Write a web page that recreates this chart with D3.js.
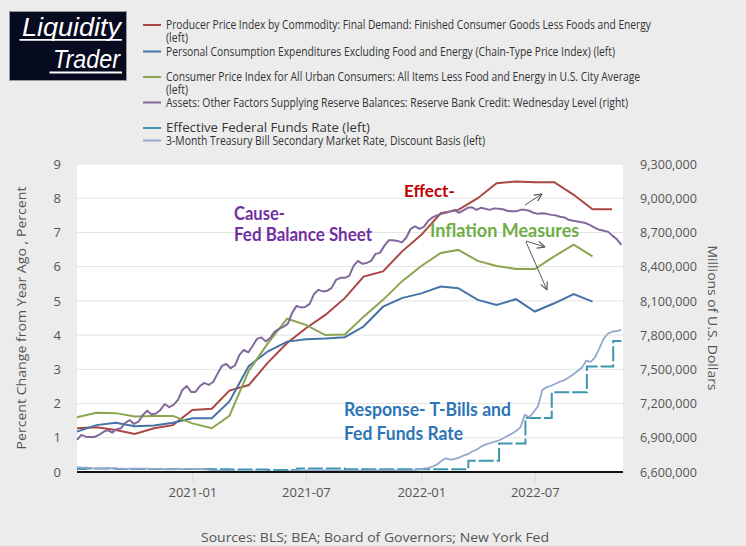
<!DOCTYPE html>
<html><head><meta charset="utf-8">
<script src="https://cdn.jsdelivr.net/npm/d3@7"></script>
<style>html,body{margin:0;padding:0;background:#ececec;} svg{display:block}</style>
</head><body><svg id="c" width="746" height="546"></svg>
<script>
// ---------- DATA ----------
const firstMonth = "2020-07-01";
const firstWeek = "2020-07-01";
const lastDate = "2022-11-17";
// Monthly, % change from year ago (Jul 2020 ...)
const ppiCore = [1.28,1.31,1.23,1.11,1.28,1.37,1.81,1.85,2.38,2.54,3.19,3.77,4.20,4.59,5.08,5.71,5.86,6.44,6.93,7.56,7.66,8.00,8.44,8.49,8.47,8.47,8.10,7.68,7.68];
const pceCore = [1.18,1.37,1.44,1.34,1.36,1.44,1.57,1.57,2.06,3.10,3.52,3.81,3.88,3.90,3.94,4.25,4.83,5.08,5.22,5.42,5.37,5.03,4.88,5.05,4.69,4.93,5.20,4.98];
const cpiCore = [1.60,1.73,1.72,1.62,1.64,1.64,1.42,1.28,1.64,2.96,3.75,4.48,4.30,4.00,4.02,4.54,5.03,5.57,6.02,6.40,6.49,6.17,6.02,5.93,5.93,6.30,6.64,6.30];
// Weekly (Wednesdays), millions of U.S. dollars
const reserveBankCredit = [
6881000,6925000,6910000,6907000,6907000,6925000,6951000,6968000,6945000,6975000,
6983000,7030000,7056000,7021000,7041000,7100000,7138000,7104000,7113000,7144000,
7196000,7168000,7188000,7232000,7319000,7354000,7302000,7302000,7354000,7381000,
7363000,7389000,7460000,7530000,7547000,7510000,7534000,7626000,7670000,7648000,
7705000,7767000,7780000,7745000,7775000,7828000,7854000,7872000,7898000,7995000,
8056000,8043000,8047000,8074000,8161000,8197000,8183000,8188000,8214000,8284000,
8302000,8302000,8319000,8407000,8451000,8425000,8433000,8451000,8512000,8521000,
8582000,8631000,8631000,8626000,8613000,8653000,8732000,8753000,8732000,8749000,
8802000,8832000,8850000,8863000,8872000,8885000,8898000,8872000,8894000,8916000,
8920000,8898000,8916000,8907000,8898000,8911000,8907000,8903000,8890000,8885000,
8885000,8898000,8898000,8890000,8872000,8863000,8868000,8863000,8854000,8850000,
8837000,8832000,8811000,8802000,8796000,8789000,8780000,8762000,8740000,8723000,
8714000,8705000,8670000,8640000,8591000];
// Weekly, percent
const tbill3m = [
0.14,0.13,0.13,0.12,0.10, 0.10,0.10,0.11,0.11, 0.10,0.10,0.09,0.10,0.10, 0.10,0.10,0.10,0.09,
0.09,0.09,0.08,0.08, 0.08,0.09,0.08,0.09,0.09, 0.09,0.08,0.08,0.06, 0.04,0.04,0.04,0.03,
0.04,0.02,0.02,0.02,0.02, 0.02,0.02,0.02,0.01, 0.01,0.01,0.01,0.01, 0.02,0.03,0.04,0.05,0.05,
0.05,0.05,0.05,0.05, 0.05,0.05,0.05,0.04, 0.04,0.04,0.04,0.04,0.03, 0.04,0.05,0.05,0.05,
0.05,0.05,0.05,0.05, 0.04,0.04,0.05,0.06,
0.08,0.10,0.12,0.16,0.22,0.32,0.40,0.36,0.38,0.42,0.48,0.52,0.60,0.65,0.74,0.80,0.84,0.88,0.92,0.98,
1.05,1.12,1.20,1.30,1.67,1.60,1.75,1.92,2.40,2.48,2.52,2.58,2.64,2.68,2.76,2.85,2.95,3.05,3.25,3.22,
3.35,3.62,3.90,4.05,4.10,4.12,4.15];
// Effective federal funds rate: change dates and levels
const effrDates = ["2020-07-01","2020-07-15","2020-09-01","2021-02-01","2021-03-01","2021-05-01","2021-06-17","2021-09-01","2022-03-17","2022-05-05","2022-06-16","2022-07-28","2022-09-22","2022-11-03","2022-11-16"];
const effrValues = [0.09,0.10,0.09,0.08,0.07,0.06,0.10,0.08,0.33,0.83,1.58,2.33,3.08,3.83,3.83];

const leftTicks = [0,1,2,3,4,5,6,7,8,9];
const rightTicks = [6600000,6900000,7200000,7500000,7800000,8100000,8400000,8700000,9000000,9300000];
const xTickLabels = ["2021-01","2021-07","2022-01","2022-07"];
const seriesNames = [
 "Producer Price Index by Commodity: Final Demand: Finished Consumer Goods Less Foods and Energy",
 "Personal Consumption Expenditures Excluding Food and Energy (Chain-Type Price Index) (left)",
 "Consumer Price Index for All Urban Consumers: All Items Less Food and Energy in U.S. City Average",
 "Assets: Other Factors Supplying Reserve Balances: Reserve Bank Credit: Wednesday Level (right)",
 "Effective Federal Funds Rate (left)",
 "3-Month Treasury Bill Secondary Market Rate, Discount Basis (left)"];
const colors = ["#AA4643","#4572A7","#89A54E","#80699B","#3D96AE","#92A8CD"];
const leftTitle = "Percent Change from Year Ago , Percent";
const rightTitle = "Millions of U.S. Dollars";
const sourceText = "Sources: BLS; BEA; Board of Governors; New York Fed";

// ---------- SETUP ----------
const svg = d3.select("#c");
const parse = d3.utcParse("%Y-%m-%d");
const parseM = d3.utcParse("%Y-%m");
const t0 = parse(firstMonth), t1 = parse(lastDate);
const x = d3.scaleUtc().domain([t0, t1]).range([77, 622]);
const yL = d3.scaleLinear().domain([0, 9]).range([472, 164]);
const yR = d3.scaleLinear().domain([6600000, 9300000]).range([472, 164]);
const months = d3.utcMonth.range(t0, d3.utcMonth.offset(t0, ppiCore.length));
const weeks = d3.utcWednesday.range(parse(firstWeek), t1);
const font = "'Open Sans', 'Noto Sans', sans-serif";

function fit(sel, w) {
  sel.each(function() {
    const L = this.getComputedTextLength();
    if (Math.abs(L - w) > 1) { d3.select(this).attr("textLength", w).attr("lengthAdjust", "spacingAndGlyphs"); }
  });
}

svg.append("rect").attr("width", 746).attr("height", 546).attr("fill", "#ececec");
// plot area
svg.append("rect").attr("x", 77).attr("y", 164).attr("width", 546).attr("height", 308).attr("fill", "#ffffff");
// gridlines
svg.append("g").selectAll("line").data(leftTicks.slice(1)).join("line")
  .attr("x1", 77).attr("x2", 623).attr("y1", d => yL(d)).attr("y2", d => yL(d))
  .attr("stroke", "#e3e3e3").attr("stroke-width", 1);

// ---------- AXES ----------
const xAxis = svg.append("g").attr("transform", "translate(0,472)")
  .call(d3.axisBottom(x).tickValues(xTickLabels.map(parseM)).tickFormat(d3.utcFormat("%Y-%m")).tickSize(10).tickPadding(6));
xAxis.select(".domain").remove();
xAxis.selectAll(".tick line").attr("stroke", "#ccd6eb");
xAxis.selectAll("text").attr("font-family", font).attr("font-size", 13).attr("fill", "#555");

const lAxis = svg.append("g").attr("transform", "translate(77,0)")
  .call(d3.axisLeft(yL).tickValues(leftTicks).tickFormat(d3.format("d")).tickSize(0).tickPadding(16));
lAxis.select(".domain").remove();
lAxis.selectAll("text").attr("font-family", font).attr("font-size", 13).attr("fill", "#555");

const rAxis = svg.append("g").attr("transform", "translate(623,0)")
  .call(d3.axisRight(yR).tickValues(rightTicks).tickFormat(d3.format(",")).tickSize(0).tickPadding(17));
rAxis.select(".domain").remove();
rAxis.selectAll("text").attr("font-family", font).attr("font-size", 13).attr("fill", "#555").call(fit, 57);

svg.append("text").attr("transform", "translate(26,318) rotate(-90)").attr("text-anchor", "middle")
  .attr("font-family", font).attr("font-size", 13).attr("fill", "#555").text(leftTitle).call(fit, 263);
svg.append("text").attr("transform", "translate(708,318) rotate(90)").attr("text-anchor", "middle")
  .attr("font-family", font).attr("font-size", 13).attr("fill", "#555").text(rightTitle).call(fit, 145);

svg.append("text").attr("x", 375).attr("y", 542).attr("text-anchor", "middle")
  .attr("font-family", font).attr("font-size", 13).attr("fill", "#555").text(sourceText).call(fit, 348);

// ---------- SERIES ----------
const lineL = d3.line().x(d => x(d[0])).y(d => yL(d[1]));
const lineR = d3.line().x(d => x(d[0])).y(d => yR(d[1]));
const plot = svg.append("g");
plot.append("path").datum(months.map((m, i) => [m, ppiCore[i]])).attr("d", lineL)
  .attr("fill", "none").attr("stroke", colors[0]).attr("stroke-width", 2);
plot.append("path").datum(months.slice(0, pceCore.length).map((m, i) => [m, pceCore[i]])).attr("d", lineL)
  .attr("fill", "none").attr("stroke", colors[1]).attr("stroke-width", 2);
plot.append("path").datum(months.slice(0, cpiCore.length).map((m, i) => [m, cpiCore[i]])).attr("d", lineL)
  .attr("fill", "none").attr("stroke", colors[2]).attr("stroke-width", 2);
plot.append("path").datum(weeks.map((w, i) => [w, reserveBankCredit[i]])).attr("d", lineR)
  .attr("fill", "none").attr("stroke", colors[3]).attr("stroke-width", 2).attr("stroke-linejoin", "round");
plot.append("path").datum(effrDates.map((d, i) => [parse(d), effrValues[i]]))
  .attr("d", lineL.curve(d3.curveStepAfter))
  .attr("fill", "none").attr("stroke", colors[4]).attr("stroke-width", 2).attr("stroke-dasharray", "15,3");
plot.append("path").datum(weeks.map((w, i) => [w, tbill3m[i]])).attr("d", d3.line().x(d => x(d[0])).y(d => yL(d[1])))
  .attr("fill", "none").attr("stroke", colors[5]).attr("stroke-width", 1.8);

// baseline
svg.append("line").attr("x1", 77).attr("x2", 623).attr("y1", 472).attr("y2", 472).attr("stroke", "#111").attr("stroke-width", 2);

// ---------- LEGEND ----------
const legendRows = [
  {i: 0, ly: 25, ty: 29, cont: 42},
  {i: 1, ly: 51.5, ty: 55.5},
  {i: 2, ly: 77, ty: 81, cont: 94},
  {i: 3, ly: 102.5, ty: 106.5},
  {i: 4, ly: 128, ty: 132},
  {i: 5, ly: 140.5, ty: 144.5}];
const legendWidths = [485, 449, 474, 462, 204, 319];
const lg = svg.append("g").attr("font-family", font).attr("font-size", 12).attr("fill", "#333");
legendRows.forEach(r => {
  lg.append("line").attr("x1", 143).attr("x2", 161).attr("y1", r.ly).attr("y2", r.ly).attr("stroke", colors[r.i]).attr("stroke-width", 2);
  lg.append("text").attr("x", 166).attr("y", r.ty).text(seriesNames[r.i]).call(fit, legendWidths[r.i]);
  if (r.cont) lg.append("text").attr("x", 166).attr("y", r.cont).text("(left)").call(fit, 22);
});

// ---------- LOGO ----------
const logo = svg.append("g");
logo.append("rect").attr("x", 9.5).attr("y", 11.5).attr("width", 117).attr("height", 69).attr("fill", "#060b1f").attr("stroke", "#9a9a9a");
logo.append("text").attr("x", 121).attr("y", 36).attr("text-anchor", "end").attr("font-family", "'Liberation Sans', Arial, sans-serif")
  .attr("font-style", "italic").attr("font-size", 25).attr("fill", "#fff").text("Liquidity").call(fit, 99);
logo.append("text").attr("x", 120).attr("y", 68).attr("text-anchor", "end").attr("font-family", "'Liberation Sans', Arial, sans-serif")
  .attr("font-style", "italic").attr("font-size", 25).attr("fill", "#fff").text("Trader").call(fit, 67);
logo.append("line").attr("x1", 19.5).attr("x2", 122).attr("y1", 39.8).attr("y2", 39.8).attr("stroke", "#fff").attr("stroke-width", 1.8);
logo.append("line").attr("x1", 49.5).attr("x2", 122).attr("y1", 72.5).attr("y2", 72.5).attr("stroke", "#fff").attr("stroke-width", 1.8);

// ---------- ANNOTATIONS ----------
const ann = svg.append("g").attr("font-family", "Lato, 'Open Sans', sans-serif").attr("font-weight", "bold");
function note(t, px, py, size, col, w) {
  ann.append("text").attr("x", px).attr("y", py).attr("font-size", size).attr("fill", col).text(t).call(fit, w);
}
note("Cause-", 234, 219.5, 18, "#7030A0", 51);
note("Fed Balance Sheet", 234, 241, 18, "#7030A0", 138);
note("Effect-", 404, 197, 17, "#C00000", 51);
note("Inflation Measures", 430, 236.5, 18, "#70AD47", 149);
note("Response- T-Bills and", 344, 415.5, 18, "#2E75B6", 167);
note("Fed Funds Rate", 344, 440, 18, "#2E75B6", 119);

const defs = svg.append("defs");
defs.append("marker").attr("id", "ah").attr("viewBox", "0 0 10 10").attr("refX", 9.5).attr("refY", 5)
  .attr("markerWidth", 9).attr("markerHeight", 9).attr("markerUnits", "userSpaceOnUse").attr("orient", "auto")
  .append("path").attr("d", "M1,1 L9.5,5 L1,9").attr("fill", "none").attr("stroke", "#595959").attr("stroke-width", 1.3);
const arrows = [[525, 205, 542, 194], [526, 241, 545, 247], [526, 242, 547, 290]];
svg.append("g").selectAll("line").data(arrows).join("line")
  .attr("x1", d => d[0]).attr("y1", d => d[1]).attr("x2", d => d[2]).attr("y2", d => d[3])
  .attr("stroke", "#595959").attr("stroke-width", 1).attr("marker-end", "url(#ah)");
</script>
</body></html>
